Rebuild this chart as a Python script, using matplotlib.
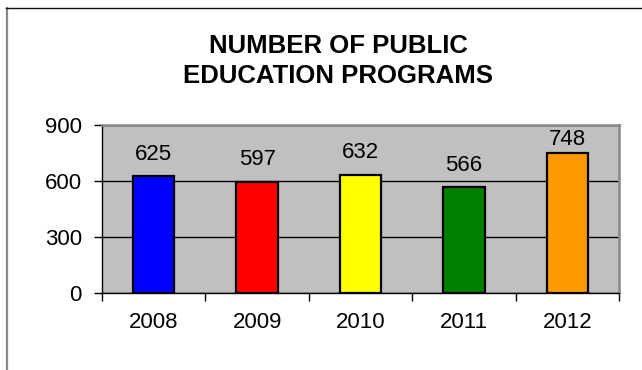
import matplotlib.pyplot as plt
from matplotlib.lines import Line2D

years = ['2008', '2009', '2010', '2011', '2012']
programs = [625, 597, 632, 566, 748]
bar_colors = ['#0000FF', '#FF0000', '#FFFF00', '#008000', '#FF9900']
y_ticks = [0, 300, 600, 900]
title_lines = ['NUMBER OF PUBLIC', 'EDUCATION PROGRAMS']

plt.rcParams['font.family'] = ['Liberation Sans', 'DejaVu Sans']

fig = plt.figure(figsize=(6.42, 3.70), dpi=100)
W, H = 642, 370

# outer chart frame (only left and top edges are visible)
fig.add_artist(Line2D([6.5 / W, 6.5 / W], [0, 1 - 7.5 / H], color='#888888', lw=1.6,
                      transform=fig.transFigure))
fig.add_artist(Line2D([6 / W, 1], [1 - 7.5 / H, 1 - 7.5 / H], color='#111111', lw=1.0,
                      transform=fig.transFigure))

left, right, top, bottom = 102, 619, 125, 293
ax = fig.add_axes([left / W, 1 - bottom / H, (right - left) / W, (bottom - top) / H])
ax.set_facecolor('#C0C0C0')

x = range(len(years))
ax.bar(x, programs, width=0.4, color=bar_colors, edgecolor='black', linewidth=1.6, zorder=3)

for i, v in enumerate(programs):
    ax.text(i, min(v + 118, 820), str(v), ha='center', va='center', fontsize=16, zorder=4)

ax.set_xlim(-0.5, len(years) - 0.5)
ax.set_ylim(0, 900)
ax.set_yticks(y_ticks)
ax.set_yticklabels([str(t) for t in y_ticks], fontsize=16)
ax.yaxis.grid(True, color='black', linewidth=1.0, zorder=1)
ax.set_axisbelow(True)

# category labels centred, tick marks at the category boundaries
ax.set_xticks(list(x))
ax.set_xticklabels(years, fontsize=16)
ax.tick_params(axis='x', which='major', length=0, pad=14)
ax.set_xticks([i - 0.5 for i in range(len(years) + 1)], minor=True)
ax.tick_params(axis='x', which='minor', length=5.5, width=1, color='black', direction='out')
ax.tick_params(axis='y', length=5.5, width=1, direction='out', pad=9)

for side in ['top', 'right']:
    ax.spines[side].set_color('#888888')
    ax.spines[side].set_linewidth(1.8)
ax.spines['left'].set_color('black')
ax.spines['bottom'].set_color('black')
ax.spines['left'].set_linewidth(1.0)
ax.spines['bottom'].set_linewidth(1.0)

for line, ypix in zip(title_lines, [46, 76]):
    fig.text(338 / W, 1 - ypix / H, line, ha='center', va='center',
             fontsize=18.5, fontweight='bold')

fig.savefig('out.png', dpi=100, facecolor='white')
